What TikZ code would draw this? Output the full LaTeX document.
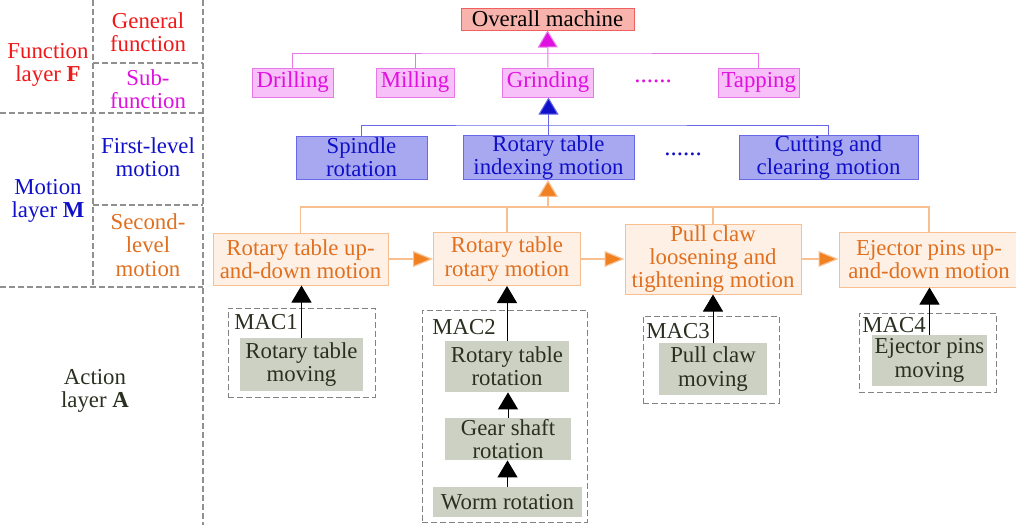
\documentclass[tikz,border=0pt]{standalone}
\usepackage{fontspec}
\setmainfont{Liberation Serif}
\usetikzlibrary{arrows.meta}
\definecolor{myred}{HTML}{F01818}
\definecolor{mymag}{HTML}{E010E0}
\definecolor{magfill}{HTML}{F8C0F8}
\definecolor{magdraw}{HTML}{E878E8}
\definecolor{myblue}{HTML}{1010C8}
\definecolor{bluefill}{HTML}{A8A8F0}
\definecolor{bluedraw}{HTML}{6868E8}
\definecolor{myorange}{HTML}{E07020}
\definecolor{orfill}{HTML}{FEF0E4}
\definecolor{ordraw}{HTML}{F8C090}
\definecolor{orarrow}{HTML}{F08020}
\definecolor{grayfill}{HTML}{CDD1C3}
\definecolor{graytext}{HTML}{2A3020}
\definecolor{salfill}{HTML}{F8B4AC}
\definecolor{saldraw}{HTML}{F06060}
\definecolor{dashgray}{HTML}{909090}
\begin{document}
\begin{tikzpicture}[x=0.5pt,y=-0.5pt,
  every node/.style={font=\fontsize{11.4}{11.6}\selectfont, align=center, inner sep=0pt},
  basebox/.style={draw, line width=0.5pt, rectangle},
  overbox/.style={basebox, fill=salfill, draw=saldraw, text=black},
  magbox/.style={basebox, fill=magfill, draw=magdraw, text=mymag, minimum height=14.5pt},
  bluebox/.style={basebox, fill=bluefill, draw=bluedraw, text=myblue, minimum height=21.5pt},
  orbox/.style={basebox, fill=orfill, draw=ordraw, text=myorange},
  graybox/.style={fill=grayfill, text=graytext},
  macbox/.style={draw=dashgray!90!black, dash pattern=on 3pt off 1.5pt, line width=0.5pt},
  maclabel/.style={text=graytext, anchor=west},
  layerline/.style={draw=dashgray, dash pattern=on 3pt off 1.5pt, line width=0.6pt},
  upar/.style={-{Triangle[length=8.5pt,width=10pt]}},
  magl/.style={draw=magdraw, line width=0.5pt},
  bluel/.style={draw=bluedraw, line width=0.5pt},
  orl/.style={draw=ordraw, line width=0.6pt},
  blackl/.style={draw=black, line width=0.5pt}
]
\useasboundingbox (0,0) rectangle (1016,525);

% ---- layer panel ----
\draw[layerline] (93,0) -- (93,287);
\draw[layerline] (203,0) -- (203,525);
\draw[layerline] (93,63) -- (203,63);
\draw[layerline] (0,113) -- (203,113);
\draw[layerline] (93,205) -- (203,205);
\draw[layerline] (0,287) -- (203,287);

\node[text=myred] (genf) at (148,32) {General\\function};
\node[text=mymag] (subf) at (148,89) {Sub-\\function};
\node[text=myred] (funL) at (48,65) {Function\\layer \textbf{F}};
\node[text=myblue] (firstm) at (148,157) {First-level\\motion};
\node[text=myblue] (motL) at (48,201) {Motion\\layer \textbf{M}};
\node[text=myorange] (secm) at (148,245) {Second-\\level\\motion};
\node[text=graytext] (actL) at (95,391) {Action\\layer \textbf{A}};

% ---- top ----
\node[overbox, minimum width=86.5pt, minimum height=11pt] (over) at (547.5,19) {Overall machine};

\node[magbox, minimum width=40.25pt] (drill) at (292.75,82.5) {Drilling};
\node[magbox, minimum width=39pt] (mill) at (415,82.5) {Milling};
\node[magbox, minimum width=45.5pt] (grind) at (548,82.5) {Grinding};
\node[text=mymag, font=\fontsize{12.5}{12.5}\selectfont] (mdots) at (653,81) {......};
\node[magbox, minimum width=40.2pt] (tap) at (758.8,82.5) {Tapping};

\coordinate (mbus) at (548,53);
\draw[magl] (drill.north) |- (mbus) -| (tap.north);
\draw[magl] (mill.north) -- (mill.north |- mbus);
\draw[magl, -{Triangle[length=8.5pt,width=10pt,fill=mymag]}] (grind.north) -- (over.south);

% ---- first level motion ----
\node[bluebox, minimum width=65.5pt] (spin) at (361.5,157.5) {Spindle\\rotation};
\node[bluebox, minimum width=85.5pt] (index) at (548.5,157.5) {Rotary table\\indexing motion};
\node[text=myblue, font=\fontsize{12.5}{12.5}\selectfont] (bdots) at (683,154) {......};
\node[bluebox, minimum width=89.5pt] (cut) at (828.5,157.5) {Cutting and\\clearing motion};

\coordinate (bbus) at (548,125);
\draw[bluel] (spin.north) |- (bbus) -| (cut.north);
\draw[bluel, -{Triangle[length=8.5pt,width=10pt,fill=myblue]}] (index.north) -- (index.north |- grind.south);

% ---- second level motion ----
\node[orbox, minimum width=87.5pt, minimum height=26pt] (rud) at (300.5,259) {Rotary table up-\\and-down motion};
\node[orbox, minimum width=73.5pt, minimum height=26.5pt] (rrm) at (507,259) {Rotary table\\rotary motion};
\node[orbox, minimum width=88pt, minimum height=35pt] (pc) at (713,259) {Pull claw\\loosening and\\tightening motion};
\node[orbox, minimum width=90pt, minimum height=27.5pt] (ej) at (929,259.5) {Ejector pins up-\\and-down motion};

\coordinate (obus) at (548,207);
\draw[orl] (rud.north) |- (obus) -| (ej.north);
\draw[orl] (rrm.north) -- (rrm.north |- obus);
\draw[orl] (pc.north) -- (pc.north |- obus);
\draw[orl, -{Triangle[length=8.5pt,width=10pt,fill=orarrow]}] (obus) -- (obus |- index.south);

\draw[orl, -{Triangle[length=10pt,width=8pt,fill=orarrow]}] (rud.east) -- (rud.east -| rrm.west);
\draw[orl, -{Triangle[length=10pt,width=8pt,fill=orarrow]}] (rrm.east) -- (rrm.east -| pc.west);
\draw[orl, -{Triangle[length=10pt,width=8pt,fill=orarrow]}] (pc.east) -- (pc.east -| ej.west);

% ---- action layer ----
\node[macbox, minimum width=73.5pt, minimum height=44.5pt] (mac1) at (301.5,352.5) {};
\node[macbox, minimum width=82.5pt, minimum height=106pt] (mac2) at (504.5,416) {};
\node[macbox, minimum width=68pt, minimum height=43.5pt] (mac3) at (711,359.5) {};
\node[macbox, minimum width=68.5pt, minimum height=39.5pt] (mac4) at (927.5,352.5) {};

\node[maclabel] (l1) at (234,322) {MAC1};
\node[maclabel] (l2) at (432,327) {MAC2};
\node[maclabel] (l3) at (646,331) {MAC3};
\node[maclabel] (l4) at (862,325) {MAC4};

\node[graybox, minimum width=61.5pt, minimum height=26.5pt] (rtm) at (301.5,364.5) {Rotary table\\moving};
\node[graybox, minimum width=62pt, minimum height=25.5pt] (rtr) at (507,366.5) {Rotary table\\rotation};
\node[graybox, minimum width=63pt, minimum height=21pt] (gsr) at (508,439) {Gear shaft\\rotation};
\node[graybox, minimum width=74.5pt, minimum height=15pt] (wr) at (507.5,502) {Worm rotation};
\node[graybox, minimum width=54pt, minimum height=26pt] (pcm) at (713,369) {Pull claw\\moving};
\node[graybox, minimum width=57.5pt, minimum height=25.5pt] (epm) at (929.5,360.5) {Ejector pins\\moving};

\draw[blackl, upar] (rtm.north) -- (rtm.north |- rud.south);
\draw[blackl, upar] (rtr.north) -- (rtr.north |- rrm.south);
\draw[blackl, upar] (gsr.north) -- (gsr.north |- rtr.south);
\draw[blackl, upar] (wr.north) -- (wr.north |- gsr.south);
\draw[blackl, upar] (pcm.north) -- (pcm.north |- pc.south);
\draw[blackl, upar] (epm.north) -- (epm.north |- ej.south);
\end{tikzpicture}
\end{document}
